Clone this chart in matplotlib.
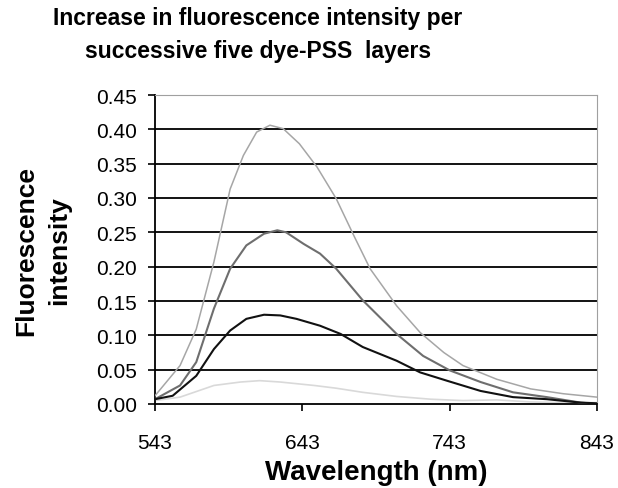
import matplotlib
matplotlib.use("Agg")
import matplotlib.pyplot as plt
import numpy as np

# Data
wl_top = [543, 560, 571, 583, 594, 603, 612, 621, 630, 641, 653, 666, 678, 689, 707, 723, 739, 752, 775, 798, 820, 843]
val_top = [0.012, 0.056, 0.109, 0.207, 0.313, 0.362, 0.396, 0.406, 0.401, 0.379, 0.345, 0.299, 0.245, 0.197, 0.143, 0.104, 0.075, 0.056, 0.036, 0.022, 0.015, 0.010]

wl_mid = [543, 560, 571, 583, 594, 605, 617, 626, 632, 644, 655, 666, 684, 707, 725, 743, 764, 786, 809, 832, 843]
val_mid = [0.007, 0.027, 0.061, 0.139, 0.197, 0.231, 0.248, 0.253, 0.250, 0.233, 0.219, 0.197, 0.151, 0.102, 0.070, 0.049, 0.032, 0.017, 0.010, 0.002, 0.000]

wl_low = [543, 555, 571, 583, 594, 605, 617, 628, 639, 655, 669, 684, 707, 723, 741, 764, 786, 809, 832, 843]
val_low = [0.007, 0.012, 0.041, 0.080, 0.107, 0.124, 0.130, 0.129, 0.124, 0.114, 0.102, 0.083, 0.063, 0.046, 0.034, 0.019, 0.010, 0.007, 0.002, 0.001]

wl_base = [543, 560, 583, 601, 614, 628, 651, 666, 684, 707, 730, 752, 775, 798, 820, 843]
val_base = [0.005, 0.010, 0.027, 0.032, 0.034, 0.032, 0.027, 0.023, 0.017, 0.011, 0.007, 0.005, 0.006, 0.003, 0.002, 0.002]

x_ticks = [543, 643, 743, 843]
y_ticks = [0.00, 0.05, 0.10, 0.15, 0.20, 0.25, 0.30, 0.35, 0.40, 0.45]

title = "Increase in fluorescence intensity per\nsuccessive five dye-PSS  layers"
xlabel = "Wavelength (nm)"
ylabel = "Fluorescence\nintensity"

plt.rcParams['font.family'] = ['Liberation Sans', 'DejaVu Sans']

fig = plt.figure(figsize=(6.18, 4.89), dpi=100)
ax = fig.add_axes([155/618, 1-405/489, (597-155)/618, (405-96)/489])

for yt in y_ticks[1:-1]:
    ax.axhline(yt, color='black', lw=1.3, zorder=1)

ax.plot(wl_base, val_base, color='#d9d9d9', lw=1.2, zorder=2)
ax.plot(wl_top, val_top, color='#a6a6a6', lw=1.1, zorder=3)
ax.plot(wl_mid, val_mid, color='#6e6e6e', lw=1.5, zorder=4)
ax.plot(wl_low, val_low, color='#111111', lw=1.5, zorder=5)

ax.set_xlim(543, 843)
ax.set_ylim(0, 0.45)
ax.set_xticks(x_ticks)
ax.set_yticks(y_ticks)
ax.set_yticklabels([f"{v:.2f}" for v in y_ticks])

ax.tick_params(axis='both', direction='out', length=5, width=1.2, colors='black', labelsize=15)
ax.tick_params(axis='x', pad=16)
ax.tick_params(axis='y', pad=8)

ax.spines['left'].set_color('black')
ax.spines['left'].set_linewidth(1.3)
ax.spines['bottom'].set_color('black')
ax.spines['bottom'].set_linewidth(1.3)
ax.spines['top'].set_color('#a0a0a0')
ax.spines['right'].set_color('#a0a0a0')

ax.set_xlabel(xlabel, fontsize=20, fontweight='bold', labelpad=5)
ax.set_ylabel(ylabel, fontsize=19, fontweight='bold', labelpad=18, linespacing=1.45)

fig.text(258/618, 1-7/489, title, ha='center', va='top', fontsize=16.5, fontweight='bold',
         linespacing=1.55)

fig.savefig("out.png", dpi=100)
